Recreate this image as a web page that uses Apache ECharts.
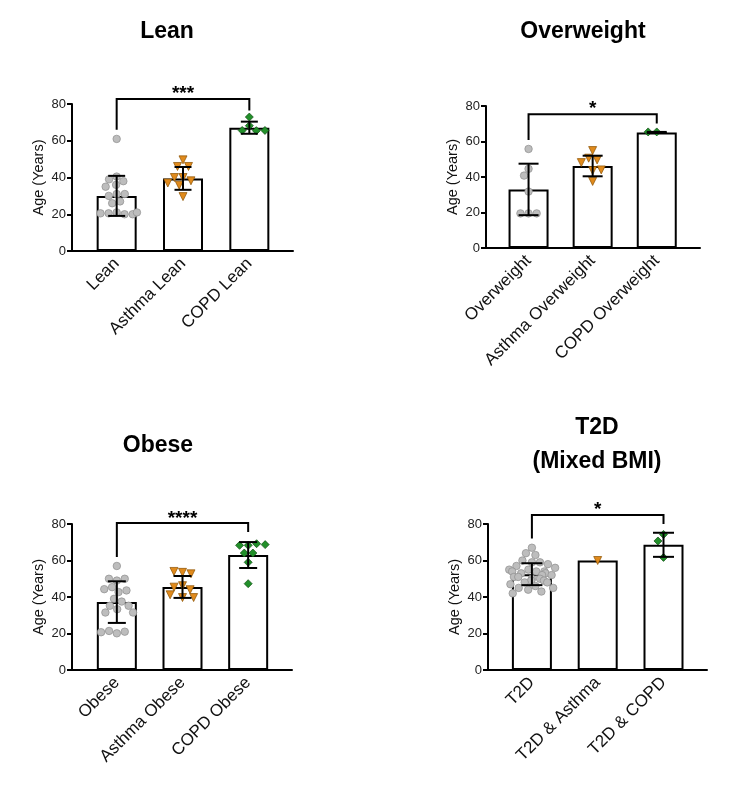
<!DOCTYPE html>
<html>
<head>
<meta charset="utf-8">
<script src="https://cdn.jsdelivr.net/npm/echarts@6.0.0/dist/echarts.min.js"></script>
<style>
  html, body { margin: 0; padding: 0; background: #fff; }
  #main { width: 733px; height: 793px; }
</style>
</head>
<body>
<div id="main"></div>
<script>
// ---- data: age in years ----
var leanCats = ['Lean', 'Asthma Lean', 'COPD Lean'];
var leanDots = [61, 40.5, 39, 38, 36, 35, 31, 31, 30, 27, 26, 21, 20.5, 20, 20, 20.5, 21];
var asthmaLeanDots = [49.6, 46, 46, 40, 40, 38.2, 37, 35.8, 29.6];
var copdLeanDots = [72.9, 68.2, 65.6, 65.5, 65.6];
var leanMeans = [30.0, 39.5, 67.1];
var leanSD = [10.9, 6.2, 3.3];

var owCats = ['Overweight', 'Asthma Overweight', 'COPD Overweight'];
var owDots = [55.8, 44.6, 40.8, 31.8, 19.5, 19.5, 19.5];
var asthmaOwDots = [54.9, 50.6, 49.6, 48.1, 43.6, 44, 37.5];
var copdOwDots = [65.4, 65.4];
var owMeans = [33.0, 46.2, 65.1];
var owSD = [14.5, 5.8, 0.3];

var obeseCats = ['Obese', 'Asthma Obese', 'COPD Obese'];
var obeseDots = [57, 49, 50, 50, 45.4, 42.7, 43.6, 44.3, 39, 37.5, 35.2, 35.2, 33.3, 31.5, 31.5, 20.1, 21.4, 21, 20.7];
var asthmaObeseDots = [53.5, 54, 52.7, 46.2, 45.4, 44, 39.7, 41.2, 39.7];
var copdObeseDots = [68.3, 69.2, 68.3, 68.7, 64.1, 64.1, 59, 47.3];
var obeseMeans = [37.2, 45.5, 63.0];
var obeseSD = [11.4, 6.0, 7.1];

var t2dCats = ['T2D', 'T2D & Asthma', 'T2D & COPD'];
var t2dDots = [67, 64, 63, 60, 59, 59, 58, 57, 56, 55, 55, 54, 54, 54, 53, 53, 52, 52, 51, 51,
               50, 50, 49, 49, 48, 48, 47, 46, 45, 45, 44, 43, 42];
var t2dAsthmaDots = [60];
var t2dCopdDots = [74.3, 70.7, 61.7];
var t2dMeans = [52.5, 60.0, 68.6];
var t2dSD = [6.0, 0, 6.6];

// significance brackets: [left leg end, bracket level, right leg end, stars level]
var leanBracket = [66, 82.7, 76.5, 87.5];
var owBracket = [60.9, 75.3, 70.2, 80.5];
var obeseBracket = [61.9, 80.6, 75.6, 85.2];
var t2dBracket = [72.1, 84.9, 80, 89.9];

var panels = [
  { title: ['Lean'], cats: leanCats, groups: [leanDots, asthmaLeanDots, copdLeanDots],
    means: leanMeans, sd: leanSD, bracket: leanBracket, stars: '***',
    outer: [72, 104, 221, 147], inner: [83.5, 199], titlePos: [167, 32], cap: 8.5, jitter: 42 },
  { title: ['Overweight'], cats: owCats, groups: [owDots, asthmaOwDots, copdOwDots],
    means: owMeans, sd: owSD, bracket: owBracket, stars: '*',
    outer: [486, 106, 214, 142], inner: [496.5, 192.3], titlePos: [583, 32], cap: 10, jitter: 42 },
  { title: ['Obese'], cats: obeseCats, groups: [obeseDots, asthmaObeseDots, copdObeseDots],
    means: obeseMeans, sd: obeseSD, bracket: obeseBracket, stars: '****',
    outer: [72, 524, 220, 146], inner: [84, 197], titlePos: [158, 446], cap: 9, jitter: 42 },
  { title: ['T2D', '(Mixed BMI)'], cats: t2dCats, groups: [t2dDots, t2dAsthmaDots, t2dCopdDots],
    means: t2dMeans, sd: t2dSD, bracket: t2dBracket, stars: '*',
    outer: [488, 524, 219, 146], inner: [499, 197.4], titlePos: [597, 428], cap: 10.5, jitter: 48 }
];

var FONT = '"Liberation Sans", Arial, sans-serif';
var dotStyles = [
  { symbol: 'circle', symbolSize: 7.5, symbolRotate: 0, color: '#bdbdbd', border: '#8e8e8e' },
  { symbol: 'triangle', symbolSize: 8, symbolRotate: 180, color: '#e08a1c', border: '#8a5000' },
  { symbol: 'diamond', symbolSize: 8, symbolRotate: 0, color: '#22902a', border: '#0d4a10' }
];

var grids = [], xAxes = [], yAxes = [], series = [], graphics = [];

panels.forEach(function (p, k) {
  var o = 2 * k, n = 2 * k + 1;
  // outer grid: y axis and the full-length x axis line
  grids.push({ left: p.outer[0], top: p.outer[1], width: p.outer[2], height: p.outer[3], outerBoundsMode: 'none' });
  // inner grid: the category bands
  grids.push({ left: p.inner[0], top: p.outer[1], width: p.inner[1], height: p.outer[3], outerBoundsMode: 'none' });

  xAxes.push({
    gridIndex: o, type: 'value', min: 0, max: 1,
    axisLine: { lineStyle: { color: '#000', width: 2 } },
    axisTick: { show: false }, axisLabel: { show: false }, splitLine: { show: false }
  });
  xAxes.push({
    gridIndex: n, type: 'category', data: p.cats,
    jitter: p.jitter, jitterOverlap: false, jitterMargin: 0.6,
    axisLine: { show: false },
    axisTick: { alignWithLabel: true, length: 6, lineStyle: { color: '#000', width: 2 } },
    axisLabel: { rotate: 45, margin: 10, fontSize: 17, color: '#111', fontFamily: FONT, interval: 0 },
    splitLine: { show: false }
  });
  yAxes.push({
    gridIndex: o, type: 'value', min: 0, max: 80, interval: 20,
    name: 'Age (Years)', nameLocation: 'middle', nameGap: 26,
    nameTextStyle: { fontSize: 14.5, color: '#111', fontFamily: FONT },
    axisLine: { show: true, lineStyle: { color: '#000', width: 2 } },
    axisTick: { show: true, length: 5, lineStyle: { color: '#000', width: 2 } },
    axisLabel: { fontSize: 13, color: '#222', margin: 6, fontFamily: FONT },
    splitLine: { show: false }
  });
  yAxes.push({ gridIndex: n, type: 'value', min: 0, max: 80, show: false });

  series.push({
    type: 'bar', xAxisIndex: n, yAxisIndex: n, barWidth: 40, z: 1,
    data: p.means,
    itemStyle: { color: '#fff', borderColor: '#000', borderWidth: 2 },
    emphasis: { disabled: true }
  });

  p.groups.forEach(function (vals, gi) {
    var s = dotStyles[gi];
    series.push({
      type: 'scatter', xAxisIndex: n, yAxisIndex: n, z: 3,
      symbol: s.symbol, symbolSize: s.symbolSize, symbolRotate: s.symbolRotate,
      data: vals.map(function (v) { return [gi, v]; }),
      itemStyle: { color: s.color, borderColor: s.border, borderWidth: 0.7, opacity: 1 },
      emphasis: { disabled: true }
    });
  });

  // mean +/- SD error bars
  var cap = p.cap;
  series.push({
    type: 'custom', xAxisIndex: n, yAxisIndex: n, z: 5,
    data: p.means.map(function (m, i) { return [i, m, p.sd[i]]; }),
    renderItem: function (params, api) {
      var i = api.value(0), m = api.value(1), s = api.value(2);
      if (!s) return null;
      var t = api.coord([i, m + s]), b = api.coord([i, m - s]);
      var st = { stroke: '#000', lineWidth: 2 };
      return { type: 'group', children: [
        { type: 'line', shape: { x1: t[0], y1: t[1], x2: b[0], y2: b[1] }, style: st },
        { type: 'line', shape: { x1: t[0] - cap, y1: t[1], x2: t[0] + cap, y2: t[1] }, style: st },
        { type: 'line', shape: { x1: b[0] - cap, y1: b[1], x2: b[0] + cap, y2: b[1] }, style: st }
      ]};
    }
  });

  // significance bracket between first and last group
  var stars = p.stars;
  series.push({
    type: 'custom', xAxisIndex: n, yAxisIndex: n, z: 6, clip: false,
    data: [[0, 2].concat(p.bracket)],
    renderItem: function (params, api) {
      var a = api.coord([api.value(0), api.value(2)]);
      var b = api.coord([api.value(0), api.value(3)]);
      var c = api.coord([api.value(1), api.value(3)]);
      var d = api.coord([api.value(1), api.value(4)]);
      var s = api.coord([api.value(0), api.value(5)]);
      return { type: 'group', children: [
        { type: 'polyline', shape: { points: [a, b, c, d] }, style: { stroke: '#000', lineWidth: 2, fill: null } },
        { type: 'text', x: (b[0] + c[0]) / 2, y: s[1] + 4,
          style: { text: stars, align: 'center', verticalAlign: 'middle', fill: '#000',
                   font: 'bold 19px ' + FONT } }
      ]};
    }
  });

  p.title.forEach(function (t, li) {
    graphics.push({
      type: 'text', x: p.titlePos[0], y: p.titlePos[1] + li * 34,
      style: { text: t, align: 'center', verticalAlign: 'middle', fill: '#000', font: 'bold 23px ' + FONT }
    });
  });
});

var chart = echarts.init(document.getElementById('main'));
chart.setOption({
  animation: false,
  backgroundColor: '#fff',
  grid: grids,
  xAxis: xAxes,
  yAxis: yAxes,
  series: series,
  graphic: graphics
});
</script>
</body>
</html>
